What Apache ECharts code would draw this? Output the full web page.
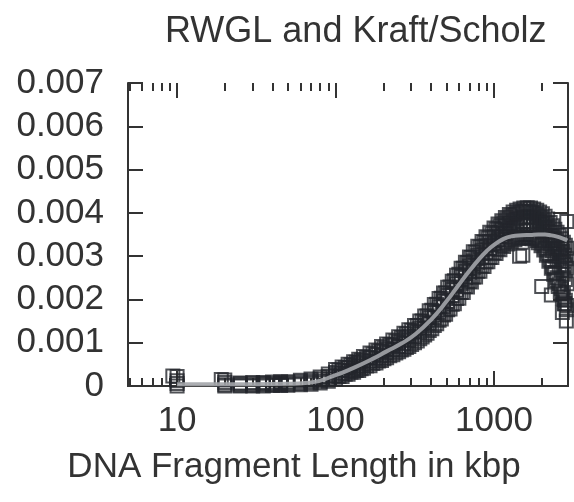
<!DOCTYPE html>
<html>
<head>
    <meta charset="utf-8">
    <title>RWGL and Kraft/Scholz</title>
    <script src="https://cdn.jsdelivr.net/npm/echarts@6/dist/echarts.min.js"></script>
    <style>
        html, body { margin: 0; padding: 0; background: #fff; }
        #chart1 { width: 574px; height: 502px; }
    </style>
</head>
<body>
<div id="chart1"></div>
<script type="text/javascript">
    // 片段长度 (kbp)，A-D 四组重复测量共用
    var kbp = [10, 20, 25, 30, 35, 40, 45, 50, 60, 70, 80, 90, 100, 110, 120, 130, 140, 150, 165, 180,
        195, 210, 230, 250, 270, 290, 315, 340, 365, 390, 420, 450, 480, 510, 545, 580, 620, 660, 700, 740,
        790, 840, 890, 940, 1000, 1060, 1120, 1180, 1250, 1320, 1390, 1460, 1540, 1620, 1700, 1780, 1860, 1940, 2020, 2100,
        2180, 2260, 2340, 2420, 2500, 2580, 2660, 2740, 2820, 2900];

    var repA = [0.00022, 0.00014, 0.00007, 0.00008, 0.00008, 0.00009, 0.0001, 0.0001, 0.00013, 0.00016,
        0.00021, 0.00028, 0.00038, 0.00044, 0.0005, 0.00056, 0.00062, 0.00068, 0.00076, 0.00083,
        0.00091, 0.00097, 0.00106, 0.00114, 0.00122, 0.0013, 0.0014, 0.0015, 0.00162, 0.00174,
        0.00188, 0.00202, 0.00215, 0.00228, 0.00242, 0.00256, 0.00272, 0.00286, 0.00298, 0.0031,
        0.00323, 0.00334, 0.00345, 0.00355, 0.00365, 0.00374, 0.00382, 0.00389, 0.00396, 0.00402,
        0.00406, 0.00409, 0.00411, 0.00412, 0.00411, 0.00409, 0.00406, 0.00402, 0.00398, 0.00392,
        0.00386, 0.00378, 0.0037, 0.00362, 0.00355, 0.00348, 0.0034, 0.00332, 0.00325, 0.00318];

    var repB = [0.00012, 0.00008, 0.00005, 0.00005, 0.00006, 0.00006, 0.00007, 0.00007, 0.0001, 0.00012,
        0.00016, 0.00022, 0.00031, 0.00036, 0.00042, 0.00047, 0.00053, 0.00058, 0.00065, 0.00072,
        0.0008, 0.00085, 0.00094, 0.00101, 0.00108, 0.00115, 0.00126, 0.00134, 0.00146, 0.00157,
        0.0017, 0.00183, 0.00197, 0.00209, 0.00223, 0.00236, 0.00253, 0.00265, 0.00277, 0.00289,
        0.00302, 0.00314, 0.00324, 0.00334, 0.00345, 0.00355, 0.00362, 0.0037, 0.00376, 0.00382,
        0.00386, 0.00388, 0.0039, 0.00391, 0.0039, 0.00388, 0.00384, 0.0038, 0.00374, 0.00366,
        0.00358, 0.00348, 0.00336, 0.00326, 0.00316, 0.00306, 0.00298, 0.00288, 0.0028, 0.00272];

    var repC = [0.00006, 0.00003, 0.00002, 0.00002, 0.00003, 0.00003, 0.00004, 0.00004, 0.00006, 0.00008,
        0.00011, 0.00016, 0.00024, 0.00029, 0.00035, 0.0004, 0.00045, 0.0005, 0.00057, 0.00064,
        0.0007, 0.00077, 0.00084, 0.00091, 0.00098, 0.00105, 0.00114, 0.00124, 0.00134, 0.00145,
        0.00158, 0.0017, 0.00183, 0.00195, 0.00209, 0.00222, 0.00237, 0.0025, 0.00263, 0.00273,
        0.00286, 0.00298, 0.00308, 0.00318, 0.00329, 0.00338, 0.00346, 0.00352, 0.00359, 0.00364,
        0.00368, 0.00371, 0.00373, 0.00374, 0.00373, 0.00371, 0.00367, 0.00363, 0.00357, 0.00349,
        0.0034, 0.00328, 0.00312, 0.003, 0.0029, 0.00278, 0.00268, 0.00258, 0.00246, 0.00236];

    var repD = [0.0, 0.0, 0.0, 0.0, 0.0, 0.00001, 0.00001, 0.00002, 0.00003, 0.00004,
        0.00007, 0.00011, 0.00017, 0.00022, 0.00027, 0.00032, 0.00036, 0.00041, 0.00047, 0.00053,
        0.00059, 0.00065, 0.00072, 0.00079, 0.00085, 0.00091, 0.001, 0.00109, 0.00118, 0.00128,
        0.0014, 0.00152, 0.00164, 0.00176, 0.00189, 0.00202, 0.00216, 0.0023, 0.00242, 0.00252,
        0.00265, 0.00277, 0.00287, 0.00297, 0.00308, 0.00317, 0.00325, 0.00331, 0.00338, 0.00343,
        0.00346, 0.00349, 0.0035, 0.0035, 0.00348, 0.00345, 0.00341, 0.00336, 0.00328, 0.00318,
        0.00306, 0.00292, 0.00276, 0.00262, 0.0025, 0.00236, 0.00224, 0.00212, 0.00198, 0.00186];

    // E、F 两组的片段长度
    var kbp2 = [105, 115, 125, 135, 145, 157, 172, 187, 202, 220, 240, 260, 280, 302, 328, 352, 378, 405, 435, 465,
        495, 528, 562, 600, 640, 680, 720, 765, 815, 865, 915, 970, 1030, 1090, 1150, 1215, 1285, 1355, 1425, 1500,
        1580, 1660, 1740, 1820, 1900, 1980, 2060, 2140, 2220, 2300, 2380, 2460, 2540, 2620, 2700, 2780, 2860];

    var repE = [0.00037, 0.00043, 0.00049, 0.00055, 0.0006, 0.00066, 0.00074, 0.00081, 0.00088, 0.00096,
        0.00104, 0.00112, 0.0012, 0.00129, 0.0014, 0.0015, 0.00162, 0.00175, 0.00189, 0.00203,
        0.00215, 0.00229, 0.00243, 0.00258, 0.00272, 0.00285, 0.00297, 0.00309, 0.00321, 0.00332,
        0.00342, 0.00352, 0.00362, 0.0037, 0.00377, 0.00385, 0.00392, 0.00397, 0.004, 0.00403,
        0.00404, 0.00403, 0.00401, 0.00398, 0.00394, 0.00389, 0.00383, 0.00376, 0.00366, 0.00355,
        0.00345, 0.00337, 0.00329, 0.0032, 0.00311, 0.00302, 0.00294];

    var repF = [0.00022, 0.00027, 0.00032, 0.00036, 0.0004, 0.00046, 0.00052, 0.00058, 0.00063, 0.0007,
        0.00076, 0.00083, 0.00089, 0.00096, 0.00104, 0.00113, 0.00122, 0.00132, 0.00144, 0.00155,
        0.00166, 0.00178, 0.0019, 0.00203, 0.00216, 0.00229, 0.0024, 0.00252, 0.00265, 0.00276,
        0.00287, 0.00297, 0.00306, 0.00315, 0.00322, 0.00328, 0.00334, 0.00338, 0.00341, 0.00342,
        0.00343, 0.00342, 0.0034, 0.00336, 0.00331, 0.00324, 0.00314, 0.00302, 0.00288, 0.00272,
        0.00258, 0.00244, 0.0023, 0.00218, 0.00204, 0.0019, 0.00176];

    // 零散的点
    var extraKbp = [9.4, 19, 1450, 1520, 2000, 2300, 2700, 2800, 2860, 2880];
    var extraVal = [0.00023, 0.00015, 0.003, 0.00302, 0.0023, 0.0021, 0.0017, 0.0019, 0.0015, 0.0038];

    // 拟合曲线（灰色）
    var fitKbp = [10, 30, 50, 70, 100, 130, 170, 210, 260, 320, 400, 500, 600, 700, 800, 900, 1000,
        1150, 1300, 1500, 1700, 1900, 2100, 2300, 2500, 2700, 2900];
    var fitVal = [0.00004, 0.00004, 0.00005, 0.00008, 0.00025, 0.00042, 0.00062, 0.0008, 0.00098, 0.0012,
        0.00153, 0.00195, 0.00234, 0.00266, 0.00292, 0.00312, 0.00326, 0.0034, 0.00346, 0.00348,
        0.00349, 0.0035, 0.0035, 0.00348, 0.00345, 0.00341, 0.00336];

    // 刻度
    var majorTicks = [10, 100, 1000];
    var minorTicks = [5, 6, 7, 8, 9, 20, 30, 40, 50, 60, 70, 80, 90, 200, 300, 400, 500, 600, 700, 800, 900, 2000];
    var xMin = 4.9, xMax = 2930;

    var font = 'Liberation Sans, Arial, sans-serif';
    var ink = '#333';

    function pairs(xs, ys) {
        return xs.map(function (x, i) { return [x, ys[i]]; });
    }

    function squares(name, data) {
        return {
            name: name,
            type: 'scatter',
            xAxisIndex: 0,
            yAxisIndex: 0,
            symbol: 'rect',
            symbolSize: 13,
            z: 2,
            itemStyle: { color: 'rgba(0,0,0,0)', borderColor: '#23252c', borderWidth: 2 },
            emphasis: { disabled: true },
            data: data
        };
    }

    // 刻度轴（以 log10 为坐标），只画刻度
    function tickAxis(pos, values, len) {
        return {
            type: 'value',
            position: pos,
            min: Math.log10(xMin),
            max: Math.log10(xMax),
            splitLine: { show: false },
            axisLine: { show: false },
            axisLabel: { show: false },
            axisTick: {
                show: true, inside: true, length: len,
                customValues: values.map(function (v) { return Math.log10(v); }),
                lineStyle: { color: ink, width: 2 }
            }
        };
    }

    var myChart1 = echarts.init(document.getElementById('chart1'));

    myChart1.setOption({
        animation: false,
        backgroundColor: '#fff',
        title: {
            text: 'RWGL and Kraft/Scholz',
            left: 160,
            top: 9,
            textStyle: { fontSize: 36, fontWeight: 'normal', color: ink, fontFamily: font }
        },
        grid: { left: 128, right: 6, top: 83, bottom: 116, outerBoundsMode: 'none' },
        xAxis: [
            {
                type: 'log', logBase: 10, min: xMin, max: xMax, position: 'bottom',
                splitLine: { show: false },
                axisLine: { show: true, lineStyle: { color: ink, width: 2 } },
                axisTick: { show: false },
                axisLabel: {
                    showMinLabel: false, showMaxLabel: false, margin: 18,
                    fontSize: 35, color: ink, fontFamily: font,
                    formatter: function (v) { return String(Math.round(v)); }
                },
                name: 'DNA Fragment Length in kbp',
                nameLocation: 'middle',
                nameGap: 64,
                nameTextStyle: { fontSize: 35, color: ink, fontFamily: font, padding: [0, 108, 0, 0] }
            },
            {
                type: 'log', logBase: 10, min: xMin, max: xMax, position: 'top',
                splitLine: { show: false },
                axisLine: { show: true, lineStyle: { color: ink, width: 2 } },
                axisTick: { show: false },
                axisLabel: { show: false }
            },
            tickAxis('bottom', majorTicks, 15),
            tickAxis('top', majorTicks, 15),
            tickAxis('bottom', minorTicks, 8),
            tickAxis('top', minorTicks, 8)
        ],
        yAxis: [
            {
                type: 'value', position: 'left', min: 0, max: 0.007, interval: 0.001,
                splitLine: { show: false },
                axisLine: { show: true, lineStyle: { color: ink, width: 2 } },
                axisTick: { show: true, inside: true, length: 15, lineStyle: { color: ink, width: 2 } },
                axisLabel: { margin: 24, fontSize: 35, color: ink, fontFamily: font }
            },
            {
                type: 'value', position: 'right', min: 0, max: 0.007, interval: 0.001,
                splitLine: { show: false },
                axisLine: { show: true, lineStyle: { color: ink, width: 2 } },
                axisTick: { show: true, inside: true, length: 15, lineStyle: { color: ink, width: 2 } },
                axisLabel: { show: false }
            }
        ],
        series: [
            squares('A', pairs(kbp, repA)),
            squares('B', pairs(kbp, repB)),
            squares('C', pairs(kbp, repC)),
            squares('D', pairs(kbp, repD)),
            squares('E', pairs(kbp2, repE)),
            squares('F', pairs(kbp2, repF)),
            squares('extra', pairs(extraKbp, extraVal)),
            {
                name: 'fit',
                type: 'line',
                xAxisIndex: 0,
                yAxisIndex: 0,
                smooth: true,
                showSymbol: false,
                z: 3,
                lineStyle: { color: '#a3a5aa', width: 4, opacity: 0.9 },
                emphasis: { disabled: true },
                data: pairs(fitKbp, fitVal)
            }
        ]
    });
</script>
</body>
</html>
